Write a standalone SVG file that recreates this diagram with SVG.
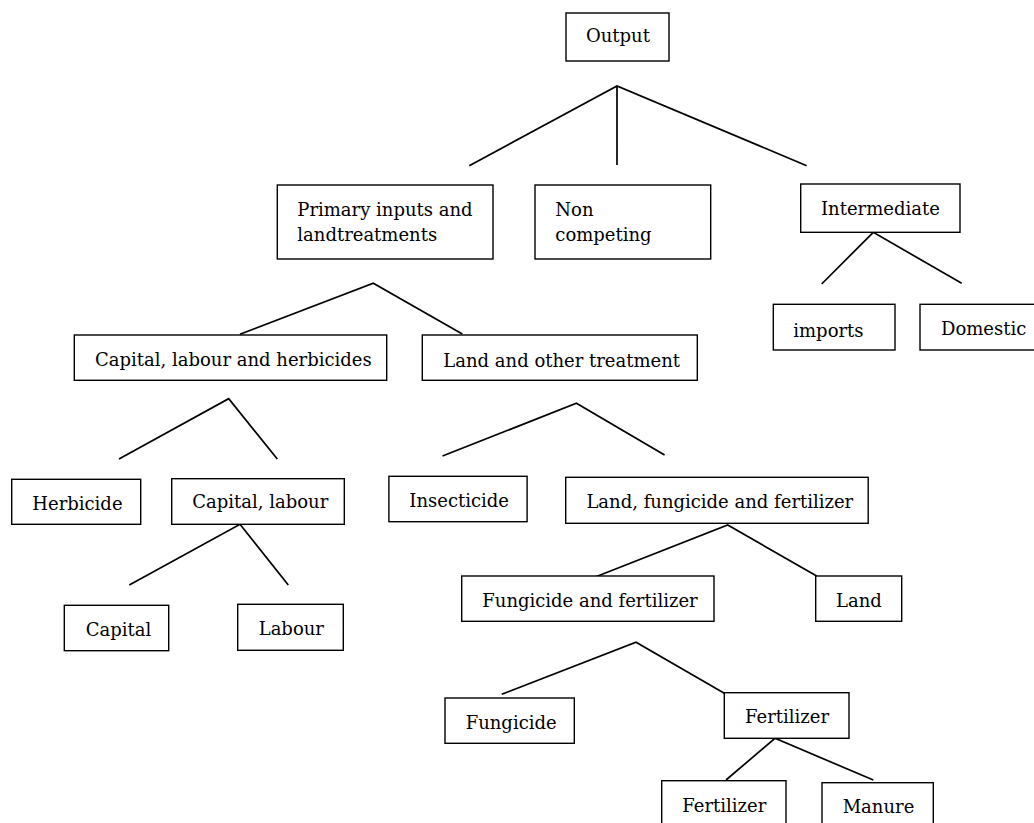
<svg xmlns="http://www.w3.org/2000/svg" width="1034" height="823" viewBox="0 0 1034 823">
<style>
.box{fill:#fff;stroke:#000;stroke-width:1.4}
.t{font-family:"DejaVu Serif","Liberation Serif",serif;font-size:18px;fill:#000}
.c{fill:none;stroke:#000;stroke-width:1.7;stroke-linejoin:miter}
</style>
<rect width="1034" height="823" fill="#fff"/>
<g id="connectors">
<path class="c" d="M469.3,165.7 L617,86 L806.7,165.7 M617,86 L617,165"/>
<path class="c" d="M240,334.3 L373.3,283.3 L462.3,334"/>
<path class="c" d="M821.7,284 L873.3,232.3 L961.7,283.3"/>
<path class="c" d="M119,459 L228.7,398.7 L277.3,459"/>
<path class="c" d="M442.5,456 L576.4,403.3 L664.6,455"/>
<path class="c" d="M129.3,585 L240,524.3 L288.3,585"/>
<path class="c" d="M593.3,577.7 L727.7,525 L816.7,576"/>
<path class="c" d="M501.7,694.3 L636,642.3 L724.3,693.3"/>
<path class="c" d="M726,780 L775,738.3 L873.3,780"/>
</g>
<g id="output"><rect class="box" x="566" y="13" width="103" height="48"/><text class="t" x="586" y="41.7">Output</text></g>
<g id="primary"><rect class="box" x="277.3" y="185" width="215.7" height="74"/><text class="t" x="297.3" y="215.7">Primary inputs and</text><text class="t" x="297.3" y="240.7">landtreatments</text></g>
<g id="noncompeting"><rect class="box" x="535" y="185" width="175.7" height="74"/><text class="t" x="555.3" y="215.7">Non</text><text class="t" x="555.3" y="240.7">competing</text></g>
<g id="intermediate"><rect class="box" x="800.7" y="184" width="159.3" height="48.3"/><text class="t" x="821" y="215">Intermediate</text></g>
<g id="imports"><rect class="box" x="773.3" y="304.3" width="121.7" height="45.7"/><text class="t" x="793.3" y="336.7">imports</text></g>
<g id="domestic"><rect class="box" x="920" y="304.3" width="120" height="45.7"/><text class="t" x="941" y="335">Domestic</text></g>
<g id="caplabherb"><rect class="box" x="74.3" y="335" width="312.4" height="45.3"/><text class="t" x="95" y="365.7">Capital, labour and herbicides</text></g>
<g id="landother"><rect class="box" x="422.3" y="335" width="275" height="45.3"/><text class="t" x="443.3" y="366.7">Land and other treatment</text></g>
<g id="herbicide"><rect class="box" x="11.7" y="479.3" width="129" height="45"/><text class="t" x="32.3" y="510">Herbicide</text></g>
<g id="caplab"><rect class="box" x="171.7" y="478.7" width="172.6" height="45.6"/><text class="t" x="192.3" y="508.3">Capital, labour</text></g>
<g id="insecticide"><rect class="box" x="388.9" y="476.3" width="138.2" height="45.4"/><text class="t" x="409.3" y="506.7">Insecticide</text></g>
<g id="landfungfert"><rect class="box" x="565.7" y="477.3" width="302.5" height="46"/><text class="t" x="586.4" y="508.3">Land, fungicide and fertilizer</text></g>
<g id="capital"><rect class="box" x="64.3" y="605.3" width="104.4" height="45.4"/><text class="t" x="85.7" y="636">Capital</text></g>
<g id="labour"><rect class="box" x="237.7" y="604.3" width="105.6" height="46"/><text class="t" x="258.7" y="635">Labour</text></g>
<g id="fungfert"><rect class="box" x="461.7" y="576" width="252.3" height="45.3"/><text class="t" x="482.3" y="607.3">Fungicide and fertilizer</text></g>
<g id="land"><rect class="box" x="815.7" y="576" width="86" height="45.3"/><text class="t" x="836" y="607.3">Land</text></g>
<g id="fungicide"><rect class="box" x="445" y="698" width="129.3" height="45.3"/><text class="t" x="465.7" y="729">Fungicide</text></g>
<g id="fertilizer"><rect class="box" x="724.3" y="692.7" width="124.7" height="45.6"/><text class="t" x="745" y="723.3">Fertilizer</text></g>
<g id="fertilizer2"><rect class="box" x="661.7" y="780.7" width="124.3" height="50"/><text class="t" x="682.3" y="811.7">Fertilizer</text></g>
<g id="manure"><rect class="box" x="822" y="782.7" width="111.3" height="50"/><text class="t" x="842.7" y="813.3">Manure</text></g>
</svg>
